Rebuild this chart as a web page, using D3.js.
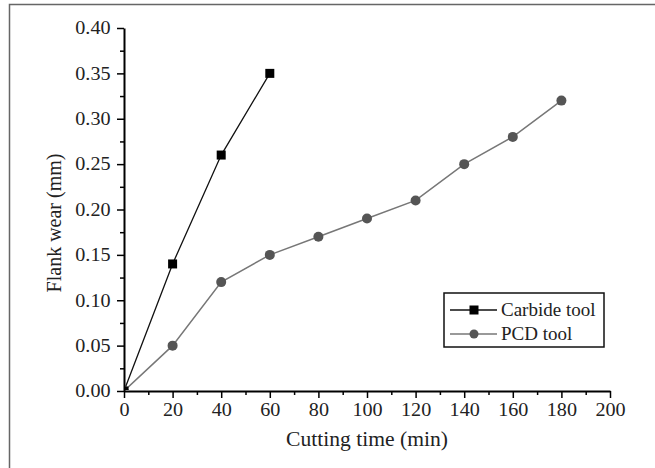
<!DOCTYPE html>
<html>
<head>
<meta charset="utf-8">
<script src="https://cdn.jsdelivr.net/npm/d3@7"></script>
<style>
  body { margin: 0; background: #fff; }
  text { font-family: "Liberation Serif", "Times New Roman", serif; fill: #222; }
</style>
</head>
<body>
<div id="chart"></div>
<script>
// flank wear vs cutting time, two tools

const carbideTime = [0, 20, 40, 60];
const carbideWear = [0, 0.14, 0.26, 0.35];
const pcdTime = [0, 20, 40, 60, 80, 100, 120, 140, 160, 180];
const pcdWear = [0, 0.05, 0.12, 0.15, 0.17, 0.19, 0.21, 0.25, 0.28, 0.32];
const xTicks = [0, 20, 40, 60, 80, 100, 120, 140, 160, 180, 200];
const yTicks = [0, 0.05, 0.10, 0.15, 0.20, 0.25, 0.30, 0.35, 0.40];
const seriesNames = ["Carbide tool", "PCD tool"];

const W = 655, H = 468;
const margin = {left: 124, top: 28, right: 45, bottom: 77};
const width = W - margin.left - margin.right,
      height = H - margin.top - margin.bottom;

const svg = d3.select("#chart").append("svg")
  .attr("width", W)
  .attr("height", H);

// outer frame (only top + left visible in the crop)
svg.append("path")
  .attr("d", `M9.5,${H} V4.5 H${W}`)
  .attr("fill", "none")
  .attr("stroke", "#666")
  .attr("stroke-width", 1.5);

const g = svg.append("g")
  .attr("transform", `translate(${margin.left},${margin.top})`);

const x = d3.scaleLinear().domain([0, 200]).range([0, width]);
const y = d3.scaleLinear().domain([0, 0.40]).range([height, 0]);

// minor ticks
g.append("g")
  .attr("transform", `translate(0,${height})`)
  .call(d3.axisBottom(x).tickValues(d3.range(10, 200, 20)).tickSize(4).tickFormat(""))
  .call(a => a.select(".domain").remove())
  .selectAll("line").attr("stroke-width", 1.5);
g.append("g")
  .call(d3.axisLeft(y).tickValues(d3.range(0.025, 0.4, 0.05)).tickSize(4).tickFormat(""))
  .call(a => a.select(".domain").remove())
  .selectAll("line").attr("stroke-width", 1.5);

const xAxis = g.append("g")
  .attr("transform", `translate(0,${height})`)
  .call(d3.axisBottom(x).tickValues(xTicks).tickSize(7).tickSizeOuter(0).tickPadding(5).tickFormat(d3.format("d")));
xAxis.select(".domain").attr("stroke-width", 2);
xAxis.selectAll(".tick line").attr("stroke-width", 1.5);
xAxis.selectAll("text").attr("font-size", 18).attr("fill", "#222")
  .attr("transform", "scale(1.12,1)");

const yAxis = g.append("g")
  .call(d3.axisLeft(y).tickValues(yTicks).tickSize(7).tickSizeOuter(0).tickPadding(5).tickFormat(d3.format(".2f")));
yAxis.select(".domain").attr("stroke-width", 2);
yAxis.selectAll(".tick line").attr("stroke-width", 1.5);
yAxis.selectAll("text").attr("font-size", 18).attr("fill", "#222")
  .attr("transform", "scale(1.12,1)");

// axis titles
svg.append("text")
  .attr("transform", `translate(${margin.left + width / 2},446) scale(1.08,1)`)
  .attr("text-anchor", "middle")
  .attr("font-size", 20)
  .text("Cutting time (min)");

svg.append("text")
  .attr("transform", "translate(61,223) rotate(-90)")
  .attr("text-anchor", "middle")
  .attr("font-size", 20)
  .text("Flank wear (mm)");

// clip so the origin markers are cut by the axes
svg.append("defs").append("clipPath").attr("id", "plotclip")
  .append("rect").attr("x", 1).attr("y", -10).attr("width", width + 10).attr("height", height + 9);

const line = d3.line().x(d => x(d[0])).y(d => y(d[1]));
const carbide = carbideTime.map((t, i) => [t, carbideWear[i]]);
const pcd = pcdTime.map((t, i) => [t, pcdWear[i]]);

const plot = g.append("g").attr("clip-path", "url(#plotclip)");

plot.append("path").datum(pcd)
  .attr("d", line).attr("fill", "none")
  .attr("stroke", "#777").attr("stroke-width", 1.5);
plot.append("path").datum(carbide)
  .attr("d", line).attr("fill", "none")
  .attr("stroke", "#111").attr("stroke-width", 1.3);

plot.selectAll(".pcd").data(pcd).enter().append("circle")
  .attr("class", "pcd")
  .attr("cx", d => x(d[0])).attr("cy", d => y(d[1]))
  .attr("r", 5).attr("fill", "#555");

const sq = 9;
plot.selectAll(".carb").data(carbide).enter().append("rect")
  .attr("class", "carb")
  .attr("x", d => x(d[0]) - sq / 2).attr("y", d => y(d[1]) - sq / 2)
  .attr("width", sq).attr("height", sq).attr("fill", "#000");

// legend
const leg = svg.append("g").attr("transform", "translate(444,293)");
leg.append("rect").attr("width", 160).attr("height", 54)
  .attr("fill", "#fff").attr("stroke", "#111").attr("stroke-width", 1.5);

const legColors = ["#111", "#777"];
const markColors = ["#000", "#555"];
seriesNames.forEach((name, i) => {
  const row = leg.append("g").attr("transform", `translate(0,${17 + i * 24})`);
  row.append("line").attr("x1", 6).attr("x2", 53)
    .attr("stroke", legColors[i]).attr("stroke-width", 1.5);
  if (i === 0) {
    row.append("rect").attr("x", 30 - 4.5).attr("y", -4.5)
      .attr("width", 9).attr("height", 9).attr("fill", markColors[i]);
  } else {
    row.append("circle").attr("cx", 30).attr("r", 4.5).attr("fill", markColors[i]);
  }
  row.append("text").attr("transform", "translate(57,6)")
    .attr("font-size", 19).text(name);
});
</script>
</body>
</html>
